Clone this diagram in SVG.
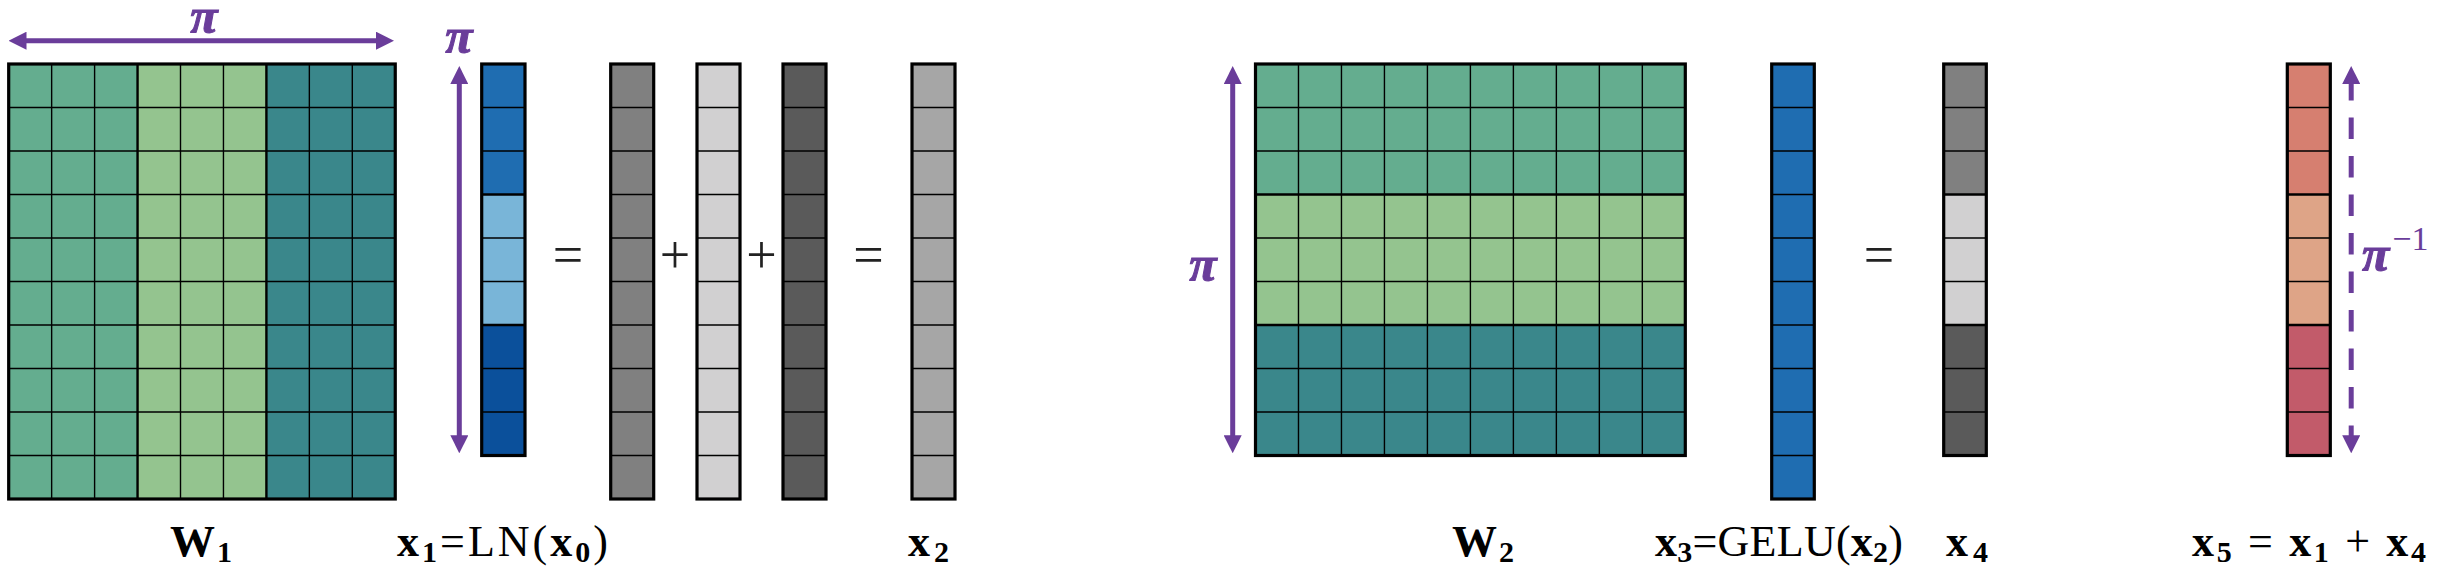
<svg xmlns="http://www.w3.org/2000/svg" width="2452" height="576" viewBox="0 0 2452 576">
<defs>
<style>
.cell{fill:none;stroke:#000;stroke-width:1.4}
.grp{fill:none;stroke:#000;stroke-width:2.4}
.frame{fill:none;stroke:#000;stroke-width:3.2}
.arr{fill:none;stroke:#6a3d9a;stroke-width:5}
.dash{stroke-dasharray:21.5 17;stroke-dashoffset:4}
.pi{font-family:"Liberation Serif","DejaVu Serif",serif;font-weight:bold;font-style:italic;font-size:50px;fill:#6a3d9a;stroke:#6a3d9a;stroke-width:1}
.sup{font-family:"Liberation Serif","DejaVu Serif",serif;font-size:34px;fill:#6a3d9a}
.op{font-family:"Liberation Serif","DejaVu Serif",serif;font-size:54px;fill:#222}
.lbl{font-family:"Liberation Serif","DejaVu Serif",serif;font-size:44px;fill:#000}
.b{font-weight:bold}
.sub{font-size:30px;font-weight:bold}
.g1{fill:#64ad8f}.g2{fill:#94c48f}.g3{fill:#3a878b}
.b1{fill:#1f6db1}.b2{fill:#79b5d8}.b3{fill:#0b509b}
.k1{fill:#808080}.k2{fill:#d1d0d1}.k3{fill:#5a5a5a}.k4{fill:#a6a6a6}
.r1{fill:#d67f70}.r2{fill:#dea487}.r3{fill:#c25b6a}
</style>
<marker id="ah" viewBox="0 0 18 18" refX="1" refY="9" markerWidth="18" markerHeight="18" markerUnits="userSpaceOnUse" orient="auto-start-reverse">
<path d="M0,0 L18,9 L0,18 z" fill="#6a3d9a"/>
</marker>
</defs>
<rect width="2452" height="576" fill="#fff"/>

<g id="W1">
<rect class="g1" x="8.7" y="64" width="128.85" height="435"/>
<rect class="g2" x="137.55" y="64" width="128.85" height="435"/>
<rect class="g3" x="266.4" y="64" width="128.85" height="435"/>
<path class="cell" d="M51.65,64V499M94.6,64V499M180.5,64V499M223.45,64V499M309.35,64V499M352.3,64V499M8.7,107.5H395.25M8.7,151H395.25M8.7,194.5H395.25M8.7,238H395.25M8.7,281.5H395.25M8.7,325H395.25M8.7,368.5H395.25M8.7,412H395.25M8.7,455.5H395.25"/>
<path class="grp" d="M137.55,64V499M266.4,64V499"/>
<rect class="frame" x="8.7" y="64" width="386.55" height="435"/>
<text class="lbl" x="170" y="556"><tspan class="b" font-size="45">W</tspan><tspan class="sub" x="217" y="562" font-size="32">1</tspan></text>
</g>

<g id="x1">
<rect class="b1" x="481.7" y="64" width="43.3" height="130.5"/>
<rect class="b2" x="481.7" y="194.5" width="43.3" height="130.5"/>
<rect class="b3" x="481.7" y="325" width="43.3" height="130.5"/>
<path class="cell" d="M481.7,107.5H525M481.7,151H525M481.7,238H525M481.7,281.5H525M481.7,368.5H525M481.7,412H525"/>
<path class="grp" d="M481.7,194.5H525M481.7,325H525"/>
<rect class="frame" x="481.7" y="64" width="43.3" height="391.5"/>
<text class="lbl" x="397" y="556" textLength="211" lengthAdjust="spacing"><tspan class="b">x</tspan><tspan class="sub" dy="6">1</tspan><tspan dy="-6">=LN(</tspan><tspan class="b">x</tspan><tspan class="sub" dy="6">0</tspan><tspan dy="-6">)</tspan></text>
</g>

<g id="v1">
<rect class="k1" x="610.7" y="64" width="43" height="435"/>
<path class="cell" d="M610.7,107.5h43M610.7,151h43M610.7,194.5h43M610.7,238h43M610.7,281.5h43M610.7,325h43M610.7,368.5h43M610.7,412h43M610.7,455.5h43"/>
<rect class="frame" x="610.7" y="64" width="43" height="435"/>
</g>

<g id="v2">
<rect class="k2" x="697" y="64" width="43" height="435"/>
<path class="cell" d="M697,107.5h43M697,151h43M697,194.5h43M697,238h43M697,281.5h43M697,325h43M697,368.5h43M697,412h43M697,455.5h43"/>
<rect class="frame" x="697" y="64" width="43" height="435"/>
</g>

<g id="v3">
<rect class="k3" x="783" y="64" width="43" height="435"/>
<path class="cell" d="M783,107.5h43M783,151h43M783,194.5h43M783,238h43M783,281.5h43M783,325h43M783,368.5h43M783,412h43M783,455.5h43"/>
<rect class="frame" x="783" y="64" width="43" height="435"/>
</g>

<g id="x2">
<rect class="k4" x="912" y="64" width="43" height="435"/>
<path class="cell" d="M912,107.5h43M912,151h43M912,194.5h43M912,238h43M912,281.5h43M912,325h43M912,368.5h43M912,412h43M912,455.5h43"/>
<rect class="frame" x="912" y="64" width="43" height="435"/>
<text class="lbl" x="908" y="556"><tspan class="b">x</tspan><tspan class="sub" x="934" y="562">2</tspan></text>
</g>

<g id="W2">
<rect class="g1" x="1255.5" y="64" width="429.8" height="130.5"/>
<rect class="g2" x="1255.5" y="194.5" width="429.8" height="130.5"/>
<rect class="g3" x="1255.5" y="325" width="429.8" height="130.5"/>
<path class="cell" d="M1298.48,64V455.5M1341.46,64V455.5M1384.44,64V455.5M1427.42,64V455.5M1470.4,64V455.5M1513.38,64V455.5M1556.36,64V455.5M1599.34,64V455.5M1642.32,64V455.5M1255.5,107.5H1685.3M1255.5,151H1685.3M1255.5,238H1685.3M1255.5,281.5H1685.3M1255.5,368.5H1685.3M1255.5,412H1685.3"/>
<path class="grp" d="M1255.5,194.5H1685.3M1255.5,325H1685.3"/>
<rect class="frame" x="1255.5" y="64" width="429.8" height="391.5"/>
<text class="lbl" x="1452" y="556"><tspan class="b" font-size="45">W</tspan><tspan class="sub" x="1499" y="562" font-size="32">2</tspan></text>
</g>

<g id="x3">
<rect class="b1" x="1771.7" y="64" width="42.6" height="435"/>
<path class="cell" d="M1771.7,107.5h42.6M1771.7,151h42.6M1771.7,194.5h42.6M1771.7,238h42.6M1771.7,281.5h42.6M1771.7,325h42.6M1771.7,368.5h42.6M1771.7,412h42.6M1771.7,455.5h42.6"/>
<rect class="frame" x="1771.7" y="64" width="42.6" height="435"/>
<text class="lbl" x="1655" y="556" textLength="248" lengthAdjust="spacing"><tspan class="b">x</tspan><tspan class="sub" dy="6">3</tspan><tspan dy="-6">=GELU(</tspan><tspan class="b">x</tspan><tspan class="sub" dy="6">2</tspan><tspan dy="-6">)</tspan></text>
</g>

<g id="x4">
<rect class="k1" x="1943.7" y="64" width="42.6" height="130.5"/>
<rect class="k2" x="1943.7" y="194.5" width="42.6" height="130.5"/>
<rect class="k3" x="1943.7" y="325" width="42.6" height="130.5"/>
<path class="cell" d="M1943.7,107.5h42.6M1943.7,151h42.6M1943.7,238h42.6M1943.7,281.5h42.6M1943.7,368.5h42.6M1943.7,412h42.6"/>
<path class="grp" d="M1943.7,194.5h42.6M1943.7,325h42.6"/>
<rect class="frame" x="1943.7" y="64" width="42.6" height="391.5"/>
<text class="lbl" x="1946" y="556"><tspan class="b">x</tspan><tspan class="sub" x="1973" y="562">4</tspan></text>
</g>

<g id="x5">
<rect class="r1" x="2287.3" y="64" width="43" height="130.5"/>
<rect class="r2" x="2287.3" y="194.5" width="43" height="130.5"/>
<rect class="r3" x="2287.3" y="325" width="43" height="130.5"/>
<path class="cell" d="M2287.3,107.5h43M2287.3,151h43M2287.3,238h43M2287.3,281.5h43M2287.3,368.5h43M2287.3,412h43"/>
<path class="grp" d="M2287.3,194.5h43M2287.3,325h43"/>
<rect class="frame" x="2287.3" y="64" width="43" height="391.5"/>
<text class="lbl" x="2192" y="556" textLength="234" lengthAdjust="spacing"><tspan class="b">x</tspan><tspan class="sub" dy="6">5</tspan><tspan dy="-6"> = </tspan><tspan class="b">x</tspan><tspan class="sub" dy="6">1</tspan><tspan dy="-6"> + </tspan><tspan class="b">x</tspan><tspan class="sub" dy="6">4</tspan></text>
</g>

<g id="operators">
<text class="op" x="568" y="273" text-anchor="middle">=</text>
<text class="op" x="675" y="273" text-anchor="middle">+</text>
<text class="op" x="761.5" y="273" text-anchor="middle">+</text>
<text class="op" x="868.5" y="273" text-anchor="middle">=</text>
<text class="op" x="1879" y="273" text-anchor="middle">=</text>
</g>

<g id="connectors">
<line class="arr" x1="25.5" y1="40.7" x2="377" y2="40.7" marker-start="url(#ah)" marker-end="url(#ah)"/>
<line class="arr" x1="459.3" y1="83" x2="459.3" y2="436.3" marker-start="url(#ah)" marker-end="url(#ah)"/>
<line class="arr" x1="1232.7" y1="83" x2="1232.7" y2="436.3" marker-start="url(#ah)" marker-end="url(#ah)"/>
<line class="arr dash" x1="2351.2" y1="83" x2="2351.2" y2="436.3" marker-start="url(#ah)" marker-end="url(#ah)"/>
</g>

<g id="dim-labels">
<text class="pi" x="204" y="33" text-anchor="middle">π</text>
<text class="pi" x="459" y="53" text-anchor="middle">π</text>
<text class="pi" x="1203" y="281" text-anchor="middle">π</text>
<text x="2362" y="271"><tspan class="pi">π</tspan><tspan class="sup" dy="-21" dx="3">−1</tspan></text>
</g>
</svg>
